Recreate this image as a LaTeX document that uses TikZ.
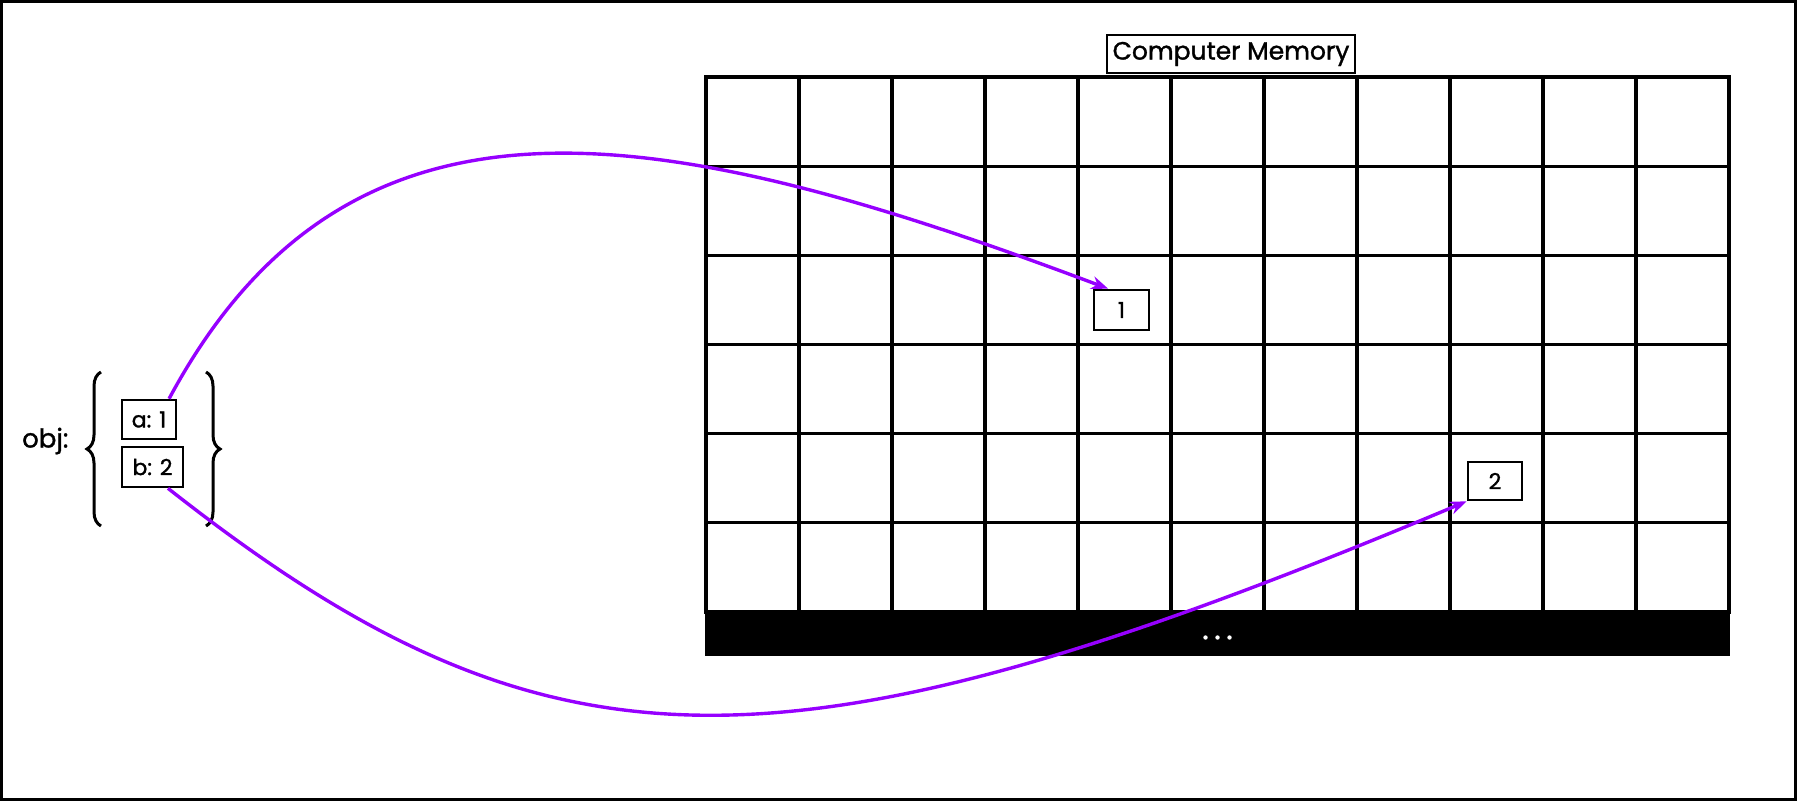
\documentclass[tikz,border=0pt]{standalone}
\usepackage{fontspec}
\setmainfont{Poppins}[FakeBold=1.3]
\usetikzlibrary{arrows.meta,decorations.pathreplacing,calc}
\definecolor{ptr}{RGB}{150,0,255}
\tikzset{
  box/.style={draw=black, line width=2.6pt, fill=white, inner sep=0pt},
  lbl/.style={font=\fontsize{22}{26}\selectfont},
  ptrline/.style={draw=ptr, line width=3.4pt, -{Stealth[length=17pt,width=13pt]}},
  gridline/.style={line width=3.2pt, line cap=rect},
  bracestyle/.style={line width=3pt, decorate, decoration={brace, amplitude=14pt}}
}
\begin{document}
\begin{tikzpicture}[x=1pt,y=-1pt]
\useasboundingbox (0,0) rectangle (1797,801);
\draw[line width=2.4pt] (1.5,1.5) rectangle (1795.5,799.5);
% memory grid
\foreach \i in {0,...,11} {
  \draw[gridline] ({706+93*\i},77) -- ({706+93*\i},612);
}
\foreach \j in {0,...,6} {
  \draw[gridline] (706,{77+535/6*\j}) -- (1729,{77+535/6*\j});
}
\node[fill=black, draw=black, line width=2pt, minimum width=1023pt, minimum height=43pt, inner sep=0pt] (bar) at (1217.5,633.5) {};
\foreach \k in {-12,0,12} {
  \fill[white] ($(bar.center)+(\k,4)$) circle (2.2pt);
}
\node[box, minimum width=248pt, minimum height=38pt, font=\fontsize{25}{28}\selectfont] (cm) at (1231,54) {Computer Memory};
\node[box, lbl, minimum width=55pt, minimum height=40pt] (one) at (1121.5,310) {1};
\node[box, lbl, minimum width=54pt, minimum height=38pt] (two) at (1495,481) {2};
% object
\node[font=\fontsize{26}{30}\selectfont, anchor=west, inner sep=0pt] (obj) at (22,441) {obj:};
\node[box, lbl, minimum width=54pt, minimum height=39pt] (a) at (149,419.5) {a: 1};
\node[box, lbl, minimum width=61pt, minimum height=40pt] (b) at (152.5,467) {b: 2};
\coordinate (lbB) at (101,526);
\coordinate (lbT) at (101,372);
\coordinate (rbT) at (206,372);
\coordinate (rbB) at (206,526);
\draw[bracestyle] (lbB) -- (lbT);
\draw[bracestyle] (rbT) -- (rbB);
% pointers
\draw[ptrline] (a.46) .. controls (350,62) and (660,120) .. (one.122);
\draw[ptrline] (b.-54) .. controls (546,786) and (780,790) .. (two.south west);
\end{tikzpicture}
\end{document}
